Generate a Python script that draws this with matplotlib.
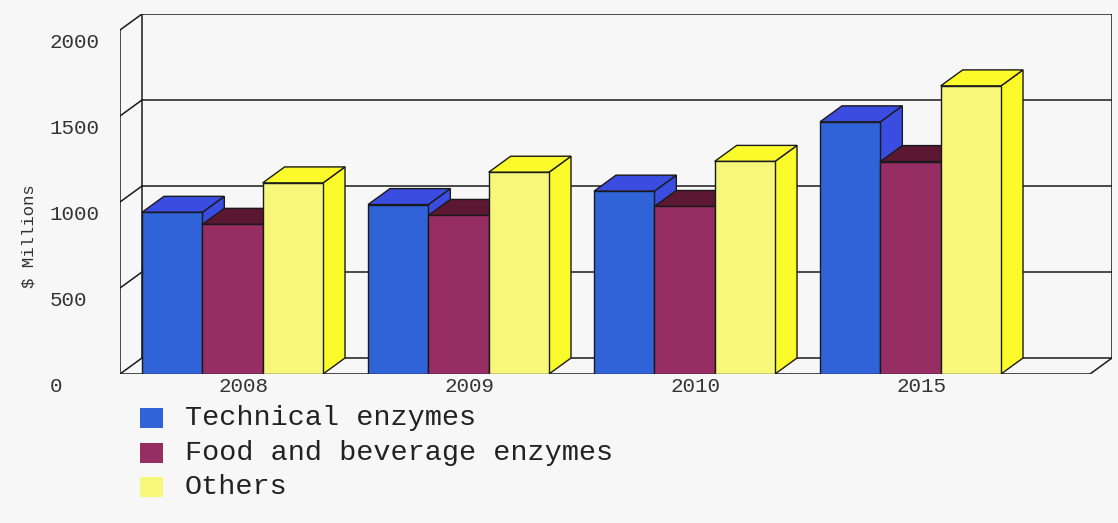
import matplotlib.pyplot as plt
from matplotlib.patches import Polygon, Rectangle

# Datos (millones de dólares)
years = ['2008', '2009', '2010', '2015']
series_names = ['Technical enzymes', 'Food and beverage enzymes', 'Others']
technical = [940, 985, 1063, 1466]
food_bev = [870, 922, 974, 1235]
others = [1111, 1173, 1236, 1675]
y_ticks = [0, 500, 1000, 1500, 2000]

# Colores: cara frontal, cara superior/lateral
front_colors = ['#3063d8', '#962d63', '#f7f77a']
shade_colors = ['#3b4de0', '#5c1733', '#fbfb2c']
bg = '#f7f7f7'
edge = '#1a1a1a'
mono = 'Liberation Mono'

# Geometría del pseudo-3D (en unidades de datos)
dx = 0.0973      # profundidad horizontal
dy = 93          # profundidad vertical
bar_w = 0.267
group_off = 0.0973
floor_end = 4.292
y_top = 2000

fig = plt.figure(figsize=(11.18, 5.23), dpi=100, facecolor=bg)
ax = fig.add_axes([120 / 1118, 1 - 374 / 523, 992 / 1118, 360 / 523])
ax.set_xlim(0, floor_end + dx)
ax.set_ylim(0, y_top + dy)
ax.axis('off')

line_kw = dict(color=edge, lw=1.1, zorder=1)

# Pared izquierda y líneas de la cuadrícula del fondo
ax.plot([0, 0], [0, y_top], **line_kw)
ax.plot([dx, dx], [dy, y_top + dy], **line_kw)
ax.plot([floor_end + dx, floor_end + dx], [dy, y_top + dy], **line_kw)
for t in y_ticks:
    ax.plot([0, dx], [t, t + dy], **line_kw)
    ax.plot([dx, floor_end + dx], [t + dy, t + dy], **line_kw)

# Suelo
ax.plot([0, floor_end, floor_end + dx], [0, 0, dy], **line_kw)

# Barras con caras frontal, superior y lateral
data = [technical, food_bev, others]
for i in range(len(years)):
    for s, vals in enumerate(data):
        v = vals[i]
        x0 = i + group_off + s * bar_w
        x1 = x0 + bar_w
        side = Polygon([(x1, 0), (x1 + dx, dy), (x1 + dx, v + dy), (x1, v)],
                       closed=True, fc=shade_colors[s], ec=edge, lw=1, zorder=3)
        top = Polygon([(x0, v), (x1, v), (x1 + dx, v + dy), (x0 + dx, v + dy)],
                      closed=True, fc=shade_colors[s], ec=edge, lw=1, zorder=3)
        front = Rectangle((x0, 0), bar_w, v, fc=front_colors[s], ec=edge,
                          lw=1, zorder=3)
        for p in (side, top, front):
            ax.add_patch(p)

# Etiquetas del eje Y
for t in y_ticks:
    ax.text(-0.31, t - 75, str(t), ha='left', va='center', fontsize=15,
            family=mono, color='#333333')

ax.text(-0.403, 800, '$ Millions', rotation=90, ha='center', va='center',
        fontsize=12.5, family=mono, color='#333333')

# Etiquetas de los años
for i, yr in enumerate(years):
    xc = i + group_off + 1.5 * bar_w + dx / 2
    ax.text(xc, -70, yr, ha='center', va='center', fontsize=15,
            family=mono, color='#333333')

# Leyenda
rows = [418, 453, 487]
for name, col, yy in zip(series_names, front_colors, rows):
    fig.add_artist(Rectangle((140 / 1118, 1 - (yy + 10) / 523), 23 / 1118,
                             20 / 523, transform=fig.transFigure,
                             fc=col, ec='none'))
    fig.text(185 / 1118, 1 - yy / 523, name, ha='left', va='center',
             fontsize=20.5, family=mono, color='#222222')

plt.savefig('out.png', dpi=100, facecolor=bg)
plt.close()
